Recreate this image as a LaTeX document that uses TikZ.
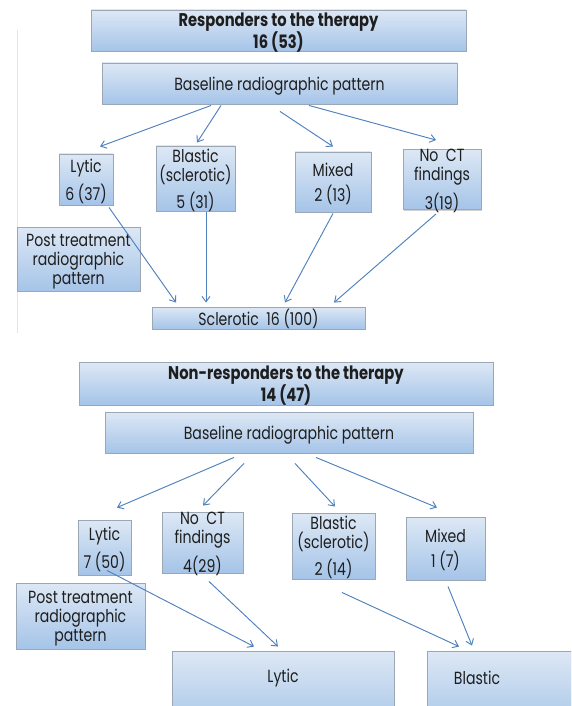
\documentclass[tikz,border=0pt]{standalone}
\usepackage{fontspec}
\setmainfont{Poppins}[FakeStretch=0.8]
\usetikzlibrary{arrows.meta,shadows,calc}
\definecolor{boxtop}{HTML}{DDE8F5}
\definecolor{boxbot}{HTML}{A5C4E8}
\definecolor{boxline}{HTML}{9BA7B4}
\definecolor{arrcol}{HTML}{4F81BD}
\definecolor{txt}{HTML}{1E1E1E}
\tikzset{
  bbox/.style={rectangle, draw=boxline, line width=0.7pt, top color=boxtop, bottom color=boxbot,
    drop shadow={shadow xshift=0.8pt, shadow yshift=-0.9pt, opacity=0.35},
    inner sep=0pt, align=center, text=txt, text depth=-0.5pt, font=\fontsize{13.2}{14.3}\selectfont},
  ttl/.style={bbox, text depth=0pt, font=\bfseries\fontsize{13.8}{16.5}\selectfont},
  lbl/.style={inner sep=0pt, text=txt, font=\fontsize{13.2}{14.3}\selectfont},
  arr/.style={draw=arrcol, line width=0.7pt, -{Straight Barb[length=4pt,width=6pt]}},
}
\begin{document}
\begin{tikzpicture}[x=0.75pt,y=-0.75pt]
\useasboundingbox (0,0) rectangle (571,706);
\clip (0,0) rectangle (571,706);
\fill[white] (0,0) rectangle (571,706);
\draw[black!10, line width=0.6pt] (17,30) -- (17,333);
% ---- top section
\node[ttl, minimum width=281.25pt, minimum height=30.75pt] (T1) at (278.5,30.5) {Responders to the therapy\\16 (53)};
\node[bbox, minimum width=266.25pt, minimum height=30.75pt] (B1) at (279.5,83.5) {Baseline radiographic pattern};
\node[bbox, minimum width=40.5pt, minimum height=38.25pt] (L1) at (86,179.5) {Lytic\\[4.5pt]6 (37)};
\node[bbox, minimum width=59.25pt, minimum height=48.75pt] (BL1) at (195.5,178.5) {Blastic\\(sclerotic)\\[4.5pt]5 (31)};
\node[bbox, minimum width=57pt, minimum height=45pt] (M1) at (333,182) {Mixed\\[4.5pt]2 (13)};
\node[bbox, minimum width=58.5pt, minimum height=42.75pt] (N1) at (442,179.5) {No\ \ CT\\findings\\[4.5pt]3(19)};
\node[bbox, minimum width=92.25pt, minimum height=48pt] (P1) at (78.5,259) {Post treatment\\radiographic\\pattern};
\node[bbox, text depth=1pt, minimum width=159.75pt, minimum height=16.5pt] (S1) at (258.5,318) {Sclerotic\ \ 16 (100)};
\draw[arr] ($(B1.south)+(-68.5,1)$) -- ($(L1.north)+(14,-7)$);
\draw[arr] ($(B1.south)+(-58.5,1)$) -- ($(BL1.north)+(1.5,-3)$);
\draw[arr] ($(B1.south)+(0.5,7)$) -- ($(M1.north)+(0,-5)$);
\draw[arr] ($(B1.south)+(29.5,1)$) -- ($(N1.north)+(-6,-9)$);
\draw[arr] ($(L1.south)+(23,2)$) -- ($(S1.north)+(-82.5,-4)$);
\draw[arr] ($(BL1.south)+(10.5,1)$) -- ($(S1.north)+(-52.5,-4)$);
\draw[arr] ($(M1.south)+(0,1)$) -- ($(S1.north)+(26.5,-4)$);
\draw[arr] ($(N1.south)+(-6,4)$) -- ($(S1.north)+(75.5,-4)$);
% ---- bottom section
\node[ttl, minimum width=310.5pt, minimum height=32.25pt] (T2) at (286,383.5) {Non-responders to the therapy\\14 (47)};
\node[bbox, minimum width=276pt, minimum height=30.75pt] (B2) at (289,432.5) {Baseline radiographic pattern};
\node[bbox, minimum width=39.75pt, minimum height=41.25pt] (L2) at (104.5,547.5) {Lytic\\[4.5pt]7 (50)};
\node[bbox, minimum width=60.75pt, minimum height=45.75pt] (N2) at (202.5,542.5) {No\ \ CT\\findings\\[4.5pt]4(29)};
\node[bbox, minimum width=62.25pt, minimum height=49.5pt] (BL2) at (333.5,546) {Blastic\\(sclerotic)\\[4.5pt]2 (14)};
\node[bbox, minimum width=59.25pt, minimum height=47.25pt] (M2) at (445.5,548.5) {Mixed\\[4.5pt]1 (7)};
\node[bbox, minimum width=96.75pt, minimum height=49.5pt] (P2) at (80.5,616) {Post treatment\\radiographic\\pattern};
\node[bbox, minimum width=166.5pt, minimum height=60pt] (LY) at (283,691) {};
\node[lbl] (LYt) at (283,678) {Lytic};
\node[bbox, minimum width=114.75pt, minimum height=60pt] (BA) at (503.5,691) {};
\node[lbl] (BAt) at (477,678) {Blastic};
\draw[arr] ($(B2.south)+(-55,4)$) -- ($(L2.north)+(12.5,-12)$);
\draw[arr] ($(B2.south)+(-45,10)$) -- ($(N2.north)+(0.5,-6)$);
\draw[arr] ($(B2.south)+(6,10)$) -- ($(BL2.north)+(1.5,-6)$);
\draw[arr] ($(B2.south)+(27,4)$) -- ($(M2.north)+(-8.5,-9)$);
\draw[arr] ($(L2.south)+(2.5,-5)$) -- ($(LY.north)+(-29,-4)$);
\draw[arr] ($(N2.south)+(6.5,8)$) -- ($(LY.north)+(-5,-4)$);
\draw[arr] ($(BL2.south)+(8.5,13)$) -- ($(BA.north)+(-44.5,-4)$);
\draw[arr] ($(M2.south)+(2.5,6)$) -- ($(BA.north)+(-31.5,-5)$);
\end{tikzpicture}
\end{document}
